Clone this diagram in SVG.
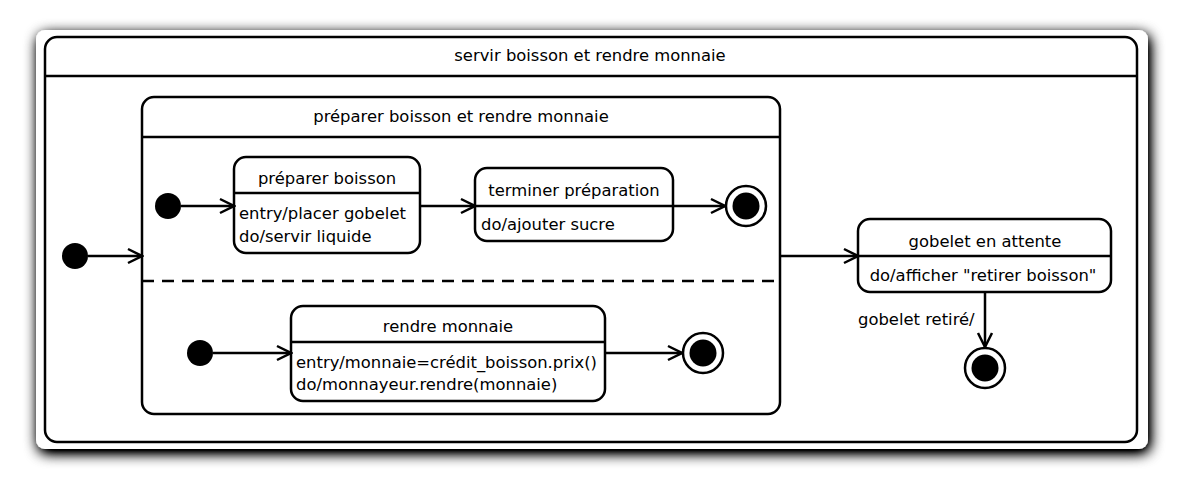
<svg xmlns="http://www.w3.org/2000/svg" width="1194" height="480" viewBox="0 0 1194 480">
<style>
.b{fill:#fff;stroke:#000;stroke-width:2.5}
.s{fill:#fff;stroke:#000;stroke-width:2.5}
.l{stroke:#000;stroke-width:2.5;fill:none}
.c{stroke:#000;stroke-width:2.5;fill:none;marker-end:url(#ah)}
text{font-family:"DejaVu Sans","Liberation Sans",sans-serif;font-size:16.4px;fill:#000}
.m{text-anchor:middle}
</style>
<defs>
<marker id="ah" markerWidth="20" markerHeight="20" refX="18" refY="10" orient="auto" markerUnits="userSpaceOnUse">
<path d="M4,3 L18,10 L4,17" fill="none" stroke="#000" stroke-width="2.5"/>
</marker>
<filter id="sh" x="-5%" y="-15%" width="110%" height="130%">
<feGaussianBlur in="SourceAlpha" stdDeviation="7"/>
<feOffset dx="2" dy="4" result="o"/>
<feComponentTransfer><feFuncA type="linear" slope="1.5"/></feComponentTransfer>
<feMerge><feMergeNode/><feMergeNode in="SourceGraphic"/></feMerge>
</filter>
</defs>
<rect width="1194" height="480" fill="#fff"/>
<rect x="36" y="30" width="1112" height="419" rx="9" fill="#fff" filter="url(#sh)"/>
<g id="servir">
<rect class="b" x="45" y="37" width="1092" height="405" rx="12"/>
<line class="l" x1="45" y1="76" x2="1137" y2="76"/>
<text class="m" x="590" y="61">servir boisson et rendre monnaie</text>
</g>
<g id="preparer-rendre">
<rect class="b" x="142" y="97" width="638" height="317" rx="12"/>
<line class="l" x1="142" y1="137" x2="780" y2="137"/>
<line class="l" x1="142" y1="281" x2="780" y2="281" stroke-dasharray="12,8"/>
<text class="m" x="461" y="122">préparer boisson et rendre monnaie</text>
</g>
<g id="init-outer"><circle cx="75" cy="256" r="13" fill="#000"/></g>
<g id="init-prep"><circle cx="168" cy="206" r="13" fill="#000"/></g>
<g id="init-rendre"><circle cx="200" cy="353" r="13" fill="#000"/></g>
<g id="preparer-boisson">
<rect class="s" x="234" y="157" width="186" height="96" rx="12"/>
<line class="l" x1="234" y1="193" x2="420" y2="193"/>
<text class="m" x="327" y="184">préparer boisson</text>
<text x="239" y="219">entry/placer gobelet</text>
<text x="239" y="242">do/servir liquide</text>
</g>
<g id="terminer">
<rect class="s" x="475" y="168" width="198" height="73" rx="12"/>
<text class="m" x="574" y="196">terminer préparation</text>
<text x="481" y="230">do/ajouter sucre</text>
</g>
<g id="final-prep"><circle cx="746" cy="206" r="20" fill="#fff" stroke="#000" stroke-width="2.5"/><circle cx="746" cy="206" r="13.5" fill="#000"/></g>
<g id="rendre-monnaie">
<rect class="s" x="291" y="306" width="314" height="95" rx="12"/>
<line class="l" x1="291" y1="342" x2="605" y2="342"/>
<text class="m" x="448" y="332">rendre monnaie</text>
<text x="296" y="368">entry/monnaie=crédit_boisson.prix()</text>
<text x="296" y="390">do/monnayeur.rendre(monnaie)</text>
</g>
<g id="final-rendre"><circle cx="703" cy="353" r="20" fill="#fff" stroke="#000" stroke-width="2.5"/><circle cx="703" cy="353" r="13.5" fill="#000"/></g>
<g id="gobelet">
<rect class="s" x="858" y="219" width="253" height="73" rx="12"/>
<line class="l" x1="858" y1="256" x2="1111" y2="256"/>
<text class="m" x="985" y="247">gobelet en attente</text>
<text class="m" x="983" y="281">do/afficher "retirer boisson"</text>
</g>
<g id="final-outer"><circle cx="985" cy="368" r="20" fill="#fff" stroke="#000" stroke-width="2.5"/><circle cx="985" cy="368" r="13.5" fill="#000"/></g>
<g id="connectors">
<line class="c" x1="88" y1="256" x2="142" y2="256"/>
<line class="c" x1="181" y1="206" x2="234" y2="206"/>
<line class="c" x1="420" y1="206" x2="475" y2="206"/>
<line class="c" x1="475" y1="206" x2="725" y2="206"/>
<line class="c" x1="213" y1="353" x2="291" y2="353"/>
<line class="c" x1="605" y1="353" x2="682" y2="353"/>
<line class="c" x1="780" y1="256" x2="858" y2="256"/>
<line class="c" x1="985" y1="292" x2="985" y2="347"/>
<text x="858" y="325">gobelet retiré/</text>
</g>
</svg>
